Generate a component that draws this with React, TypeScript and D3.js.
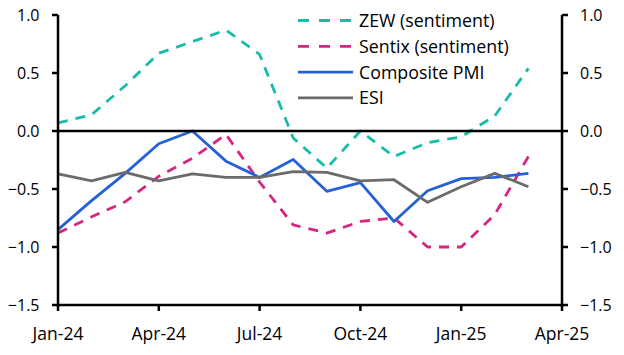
import React from "react";
import * as d3 from "d3";

const months = ["Jan-24","Feb-24","Mar-24","Apr-24","May-24","Jun-24","Jul-24","Aug-24","Sep-24","Oct-24","Nov-24","Dec-24","Jan-25","Feb-25","Mar-25"];
const tickLabels = ["Jan-24","Apr-24","Jul-24","Oct-24","Jan-25","Apr-25"];
const tickIdx = [0, 3, 6, 9, 12, 15];
const yTicks = [1.0, 0.5, 0.0, -0.5, -1.0, -1.5];

const zew = [0.07, 0.14, 0.39, 0.67, 0.77, 0.87, 0.66, -0.06, -0.32, 0.0, -0.22, -0.10, -0.05, 0.13, 0.54];
const sentix = [-0.88, -0.74, -0.61, -0.39, -0.235, -0.03, -0.44, -0.81, -0.88, -0.78, -0.75, -1.0, -1.0, -0.72, -0.22];
const pmi = [-0.85, -0.60, -0.365, -0.11, 0.0, -0.26, -0.40, -0.245, -0.52, -0.445, -0.78, -0.515, -0.41, -0.40, -0.365];
const esi = [-0.37, -0.43, -0.356, -0.43, -0.37, -0.40, -0.40, -0.35, -0.356, -0.43, -0.42, -0.615, -0.48, -0.365, -0.48];

const series = [
  { name: "ZEW (sentiment)", values: zew, color: "#19bba9", dash: "10,8" },
  { name: "Sentix (sentiment)", values: sentix, color: "#d42680", dash: "10,8" },
  { name: "Composite PMI", values: pmi, color: "#2460d6", dash: "" },
  { name: "ESI", values: esi, color: "#6b6b6b", dash: "" },
];

const W = 624, H = 355;
const L = 58, R = 562, T = 15, B = 305;

export default function App() {
  const x = d3.scaleLinear().domain([0, 15]).range([L, R]);
  const y = d3.scaleLinear().domain([-1.5, 1.0]).range([B, T]);
  const line = d3.line<number>().x((_, i) => x(i)).y((d) => y(d));
  const fmt = (v: number) => (v < 0 ? "\u2212" : "") + Math.abs(v).toFixed(1);
  const font = "'Open Sans', 'Noto Sans', sans-serif";
  return (
    <svg width={W} height={H} style={{ position: "absolute", left: 0, top: 0, background: "#fff" }} fontFamily={font}>
      <rect x={0} y={0} width={W} height={H} fill="#fff" />
      {series.map((s) => (
        <path key={s.name} d={line(s.values) || ""} fill="none" stroke={s.color} strokeWidth={2.8} strokeDasharray={s.dash || undefined} strokeLinejoin="round" />
      ))}
      <line x1={L} x2={R} y1={y(0)} y2={y(0)} stroke="#000" strokeWidth={2.5} />
      <line x1={L} x2={L} y1={T} y2={B + 1.2} stroke="#000" strokeWidth={2.5} />
      <line x1={R} x2={R} y1={T} y2={B + 1.2} stroke="#000" strokeWidth={2.5} />
      <line x1={L - 1.2} x2={R + 1.2} y1={B} y2={B} stroke="#000" strokeWidth={2.5} />
      {yTicks.map((v) => (
        <g key={v}>
          <line x1={L - 6} x2={L} y1={y(v)} y2={y(v)} stroke="#000" strokeWidth={2.5} />
          <line x1={R} x2={R + 6} y1={y(v)} y2={y(v)} stroke="#000" strokeWidth={2.5} />
          <text x={39.5} y={y(v)} dy="0.36em" textAnchor="end" fontSize={16} fill="#000">{fmt(v)}</text>
          <text x={580} y={y(v)} dy="0.36em" textAnchor="start" fontSize={16} fill="#000">{fmt(v)}</text>
        </g>
      ))}
      {tickIdx.map((i, k) => (
        <g key={i}>
          <line x1={x(i)} x2={x(i)} y1={B} y2={B + 6} stroke="#000" strokeWidth={2.5} />
          <text x={x(i)} y={340} textAnchor="middle" fontSize={17.5} fill="#000">{tickLabels[k]}</text>
        </g>
      ))}
      {series.map((s, k) => {
        const cy = 20.5 + k * 25.8;
        return (
          <g key={"lg" + s.name}>
            <line x1={298} x2={353} y1={cy} y2={cy} stroke={s.color} strokeWidth={2.8} strokeDasharray={s.dash ? "11,10" : undefined} />
            <text x={359} y={cy} dy="0.36em" fontSize={17.8} fill="#000">{s.name}</text>
          </g>
        );
      })}
    </svg>
  );
}
